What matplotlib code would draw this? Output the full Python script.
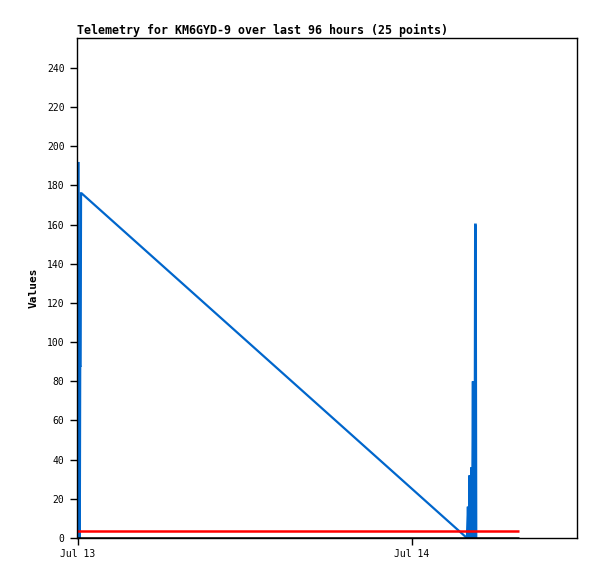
import matplotlib
matplotlib.use('Agg')
import matplotlib.pyplot as plt
import numpy as np

# hours since Jul 13 00:00 and telemetry values (25 points)
hours = [0.00, 0.02, 0.04, 0.06, 0.08, 0.10, 0.13, 0.16, 0.19, 0.22, 0.26,
         27.95, 28.02, 28.08, 28.14, 28.20, 28.26, 28.32, 28.38, 28.42,
         28.46, 28.50, 28.54, 28.58, 28.62]
values = [0, 192, 0, 88, 0, 88, 0, 88, 88, 176, 176,
          0, 16, 0, 32, 0, 36, 0, 80, 0, 80, 0, 160, 160, 0]

# horizontal reference lines
ref_start, ref_end = -0.07, 31.7
ref_red = 3.6
ref_black = 0

tick_hours = [0, 24]
tick_labels = ['Jul 13', 'Jul 14']
y_ticks = np.arange(0, 241, 20)

mono = 'DejaVu Sans Mono'

fig = plt.figure(figsize=(5.97, 5.79), dpi=100)
ax = fig.add_axes([77 / 597, 41 / 579, 500 / 597, 500 / 579])

ax.plot(hours, values, color='#0066cc', linewidth=1.6, solid_joinstyle='miter')
ax.hlines(ref_red, ref_start, ref_end, color='#ff0000', linewidth=1.8)
ax.hlines(ref_black, ref_start, ref_end, color='#000000', linewidth=1.8)

ax.set_xlim(-0.07, 35.86)
ax.set_ylim(0, 255.3)
ax.set_xticks(tick_hours)
ax.set_xticklabels(tick_labels, fontfamily=mono, fontsize=7)
ax.set_yticks(y_ticks)
ax.set_yticklabels([str(v) for v in y_ticks], fontfamily=mono, fontsize=7)
ax.tick_params(axis='both', direction='out', length=5, width=1, color='black')
ax.tick_params(axis='x', pad=3)
ax.tick_params(axis='y', pad=4)

for s in ax.spines.values():
    s.set_linewidth(1)
    s.set_color('black')

ax.set_ylabel('Values', fontfamily=mono, fontsize=8, fontweight='bold', labelpad=6)
ax.set_title('Telemetry for KM6GYD-9 over last 96 hours (25 points)',
             fontfamily=mono, fontsize=8.4, fontweight='bold', loc='left', pad=3)

plt.savefig('out.png', dpi=100)
